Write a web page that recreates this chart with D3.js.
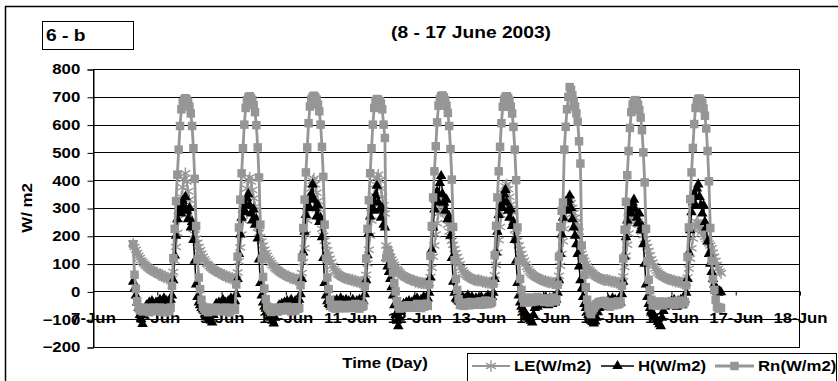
<!DOCTYPE html>
<html>
<head>
<meta charset="utf-8">
<script src="https://cdn.jsdelivr.net/npm/d3@7/dist/d3.min.js"></script>
<style>
  body { margin: 0; background: #fff; }
  svg text { font-family: "Liberation Sans", Arial, sans-serif; font-weight: bold; fill: #000; }
</style>
</head>
<body>
<svg id="chart" width="838" height="381"></svg>
<script>
// half-hourly readings, one array per day (7-Jun starts 15:00, 16-Jun ends 18:30)
const rn07 = [170,60,10,-35,-60,-68,-62,-72,-58,-66,-70,-60,-75,-63,-68,-58,-71,-64];
const rn08 = [-64,-70,-58,-73,-62,-68,-75,-60,-66,-71,-58, 20,120,225,325,420,510,595,655,680,690,695,690,682, 665,640,595,515,405,235,115,50,8,-30,-55, -62,-70,-58,-75,-64,-68,-60,-72,-66,-58,-70,-63,-67];
const rn09 = [-60,-72,-65,-58,-70,-62,-76,-64,-68,-59,-66, 25,125,230,330,425,515,600,660,688,698,702,696, 688,670,645,598,518,410,240,118,52,10,-28,-54, -60,-68,-74,-62,-70,-58,-66,-72,-61,-69,-64,-57,-65];
const rn10 = [-62,-55,-68,-60,-72,-58,-65,-70,-57,-63,-60, 22,122,228,330,428,518,605,665,690,700,704,698, 690,672,648,600,520,412,240,118,50,8,-30,-52, -58,-50,-62,-55,-48,-60,-52,-57,-49,-61,-54,-50,-56];
const rn11 = [-55,-48,-60,-52,-45,-58,-50,-62,-47,-55,-51, 18,118,225,328,425,515,600,660,685,692,690,684, 676,655,600,552,120,150,138,122,98,68,30,0, -35,-55,-62,-56,-60,-52,-58,-54,-50,-57,-53,-59,-55];
const rn12 = [-50,-58,-45,-54,-48,-60,-46,-55,-50,-44,-52, 25,128,235,338,432,522,608,668,692,702,705,698, 688,668,642,595,512,402,232,112,45,5,-28,-48, -50,-44,-52,-40,-47,-42,-50,-38,-45,-41,-48,-39,-44];
const rn13 = [-42,-36,-48,-38,-45,-33,-40,-46,-35,-43,-38, 28,130,236,338,432,520,605,664,690,700,702,696, 686,665,640,592,510,400,230,110,45,5,-25,-40, -35,-28,-40,-22,-32,-38,-25,-36,-30,-20,-34,-28,-31];
const rn14 = [-30,-38,-25,-35,-28,-40,-26,-33,-22,-36,-29, 24,125,232,290,320,510,592,655,700,735,725,705, 685,665,640,610,540,460,165,118,60,15,-30,-60, -75,-82,-68,-60,-52,-46,-42,-38,-45,-36,-41,-34,-39];
const rn15 = [-48,-40,-55,-44,-38,-50,-42,-47,-36,-45,-40, 20,118,222,322,418,505,588,645,672,684,688,682, 672,652,625,580,500,392,225,108,42,4,-30,-50, -48,-40,-52,-44,-36,-47,-41,-50,-38,-45,-42,-37,-44];
const rn16 = [-42,-36,-48,-38,-45,-33,-41,-46,-35,-43,-38, 22,124,230,332,428,516,602,660,684,692,694,688, 678,658,632,586,505,396,228,110,44,5,-30,-55, -62,-58,-60];

const h07 = [35,10,-15,-40,-60,-85,-100,-117,-85,-60,-50,-55,-40,-50,-35,-45,-55,-40];
const h08 = [-40,-55,-30,-50,-45,-25,-55,-35,-50,-40,-30, -15,40,130,200,260,290,310,280,325,300,340,290, 260,300,230,250,185,110,25,-20,-40,-50,-60,-65, -70,-80,-90,-95,-100,-105,-112,-85,-60,-45,-55,-40,-50];
const h09 = [-45,-30,-50,-40,-55,-35,-45,-25,-50,-40,-35, -10,45,135,205,265,295,320,285,335,350,310,280, 255,295,240,260,190,115,30,-15,-40,-55,-62,-70, -78,-88,-95,-105,-115,-95,-75,-60,-50,-55,-45,-50,-40];
const h10 = [-50,-35,-55,-40,-30,-50,-45,-35,-55,-40,-30, -10,45,140,215,275,305,335,300,350,385,330,300, 270,310,250,265,195,120,30,-15,-35,-45,-50,-55, -45,-35,-50,-30,-55,-40,-25,-45,-35,-50,-30,-40,-35];
const h11 = [-40,-50,-30,-45,-55,-35,-40,-30,-50,-45,-35, -10,40,130,210,270,300,330,290,345,380,320,295, 265,300,240,230,120,90,70,45,15,-15,-50,-85, -105,-125,-95,-70,-55,-45,-50,-40,-45,-35,-50,-40,-45];
const h12 = [-30,-45,-25,-40,-50,-30,-40,-20,-35,-45,-25, -5,50,150,230,295,330,360,320,390,415,350,320, 290,330,260,270,200,120,35,-5,-25,-30,-35,-38, -30,-20,-35,-25,-40,-15,-30,-35,-20,-30,-40,-25,-35];
const h13 = [-25,-40,-20,-35,-45,-25,-35,-15,-30,-40,-20, -5,45,140,215,275,305,335,300,350,365,320,290, 265,295,235,250,185,110,30,-15,-40,-55,-65,-72, -80,-88,-95,-100,-105,-112,-85,-60,-50,-55,-42,-48,-40];
const h14 = [-30,-45,-20,-40,-50,-25,-35,-45,-20,-40,-30, -5,40,135,205,265,295,320,290,330,345,300,260, 230,200,170,135,90,40,10,-20,-45,-60,-75,-85, -95,-105,-110,-115,-108,-95,-75,-60,-45,-55,-40,-50,-45];
const h15 = [-45,-30,-50,-35,-25,-45,-30,-50,-35,-25,-40, -10,35,125,195,255,285,310,280,320,330,295,265, 245,280,220,235,170,100,25,-20,-45,-60,-70,-80, -88,-95,-102,-110,-118,-125,-95,-70,-55,-45,-50,-40,-45];
const h16 = [-35,-50,-30,-45,-55,-35,-45,-30,-50,-40,-30, -5,45,140,220,285,320,350,310,370,385,340,310, 280,310,250,230,180,135,100,70,45,25,10,0, -5,0,-3];

const le07 = [172,160,150,138,128,120,112,106,100,95,90,86,82,78,75,72,70,68];
const le08 = [68,60,64,55,58,50,54,46,50,44,48, 45,70,110,160,210,260,300,340,375,405,425,395, 360,330,300,250,225,205,190,175,160,148,136,125, 115,108,100,96,90,86,82,78,75,72,70,67,64];
const le09 = [64,58,60,52,56,49,52,45,48,43,46, 44,68,108,158,205,255,295,335,370,400,410,395, 365,335,305,255,230,210,195,180,165,150,138,128, 118,110,102,95,90,84,80,76,72,68,65,62,60];
const le10 = [58,54,55,48,50,45,47,42,44,40,42, 42,66,105,155,205,255,295,335,370,398,405,385, 355,325,295,250,225,200,182,165,148,132,118,105, 92,82,74,68,62,58,55,52,50,48,46,45,44];
const le11 = [44,40,42,36,39,34,36,32,34,30,33, 36,60,100,150,200,255,300,345,385,410,420,400, 370,340,310,280,165,150,138,125,115,105,96,88, 80,74,68,62,58,55,52,49,47,45,43,41,40];
const le12 = [38,34,36,31,33,29,31,28,30,27,29, 30,52,85,125,165,205,245,280,310,330,320,300, 280,260,240,215,198,182,168,152,138,124,110,98, 86,76,68,62,57,53,50,47,45,43,41,40,38];
const le13 = [42,37,39,34,36,32,34,30,32,29,31, 33,58,95,140,185,232,275,318,352,378,385,368, 340,312,285,245,222,200,182,165,150,135,122,110, 98,88,80,72,66,61,57,54,51,48,46,44,42];
const le14 = [40,36,38,33,35,31,33,29,31,28,30, 32,56,92,135,180,225,265,300,322,330,318,300, 282,265,248,232,215,150,135,122,110,100,90,82, 76,70,65,60,56,53,50,48,46,44,42,41,40];
const le15 = [42,38,40,35,37,33,35,31,33,30,32, 32,54,88,128,168,208,242,270,288,290,278,265, 252,240,228,215,202,188,175,160,145,130,116,104, 92,82,74,67,62,58,55,52,50,47,45,44,43];
const le16 = [42,38,40,35,37,33,35,31,33,30,32, 30,50,82,118,155,190,220,242,250,245,235,225, 215,205,196,188,180,172,165,155,140,125,110,95, 82,72,65];

const dayNums = [7, 8, 9, 10, 11, 12, 13, 14, 15, 16];
const yTicks = [-200, -100, 0, 100, 200, 300, 400, 500, 600, 700, 800];
const seriesNames = ["LE(W/m2)", "H(W/m2)", "Rn(W/m2)"];

function toPoints(days) {
  const pts = [];
  days.forEach((arr, k) => {
    const d = dayNums[k];
    const h0 = d === 7 ? 15 : 0;
    arr.forEach((v, i) => pts.push({ t: new Date(2003, 5, d, 0, (h0 + i * 0.5) * 60), v: v }));
  });
  return pts;
}

const leData = toPoints([le07, le08, le09, le10, le11, le12, le13, le14, le15, le16]);
const hData = toPoints([h07, h08, h09, h10, h11, h12, h13, h14, h15, h16]);
const rnData = toPoints([rn07, rn08, rn09, rn10, rn11, rn12, rn13, rn14, rn15, rn16]);

const GRAY = "#969696";
const SX = 1.2; // text in the picture is stretched sideways

const svg = d3.select("#chart");
const pLeft = 93, pRight = 799, pTop = 69, pBottom = 347;

const x = d3.scaleTime()
  .domain([new Date(2003, 5, 7), new Date(2003, 5, 18)])
  .range([pLeft, 800]);
const y = d3.scaleLinear().domain([-200, 800]).range([pBottom, pTop]);

// outer chart border (runs past the picture bottom/right)
svg.append("rect").attr("x", 5.5).attr("y", 6.5).attr("width", 900).attr("height", 420)
  .attr("fill", "none").attr("stroke", "#000").attr("stroke-width", 1.5);

// label box
svg.append("rect").attr("x", 42.5).attr("y", 21.5).attr("width", 91).attr("height", 28)
  .attr("fill", "#fff").attr("stroke", "#000").attr("stroke-width", 1);
svg.append("text").attr("transform", "translate(46,41) scale(" + SX + ",1)")
  .style("font-size", "16px").text("6 - b");

svg.append("text").attr("transform", "translate(471,38) scale(" + SX + ",1)")
  .attr("text-anchor", "middle").style("font-size", "16px").text("(8 - 17 June 2003)");

// gridlines
svg.append("g").selectAll("line").data(yTicks).enter().append("line")
  .attr("x1", pLeft).attr("x2", pRight)
  .attr("y1", d => Math.round(y(d)) + 0.5).attr("y2", d => Math.round(y(d)) + 0.5)
  .attr("stroke", "#000").attr("stroke-width", 1);

// plot border
svg.append("rect").attr("x", pLeft + 0.5).attr("y", Math.round(pTop) + 0.5)
  .attr("width", pRight - pLeft).attr("height", Math.round(pBottom) - Math.round(pTop))
  .attr("fill", "none").attr("stroke", "#000").attr("stroke-width", 1);

// y axis
const yAxis = svg.append("g").attr("transform", "translate(" + (pLeft + 0.5) + ",0.5)")
  .call(d3.axisLeft(y).tickValues(yTicks).tickSize(6).tickPadding(5));
yAxis.attr("font-family", null);
yAxis.select(".domain").attr("stroke", "#000");
yAxis.selectAll("line").attr("stroke", "#000");
yAxis.selectAll("text").style("font-size", "14px").attr("transform", "scale(" + SX + ",1)");

// x axis sits on the zero line, labels drop below
const xAxis = svg.append("g").attr("transform", "translate(0," + (Math.round(y(0)) + 0.5) + ")")
  .call(d3.axisBottom(x).ticks(d3.timeDay.every(1)).tickFormat(d3.timeFormat("%-d-%b"))
    .tickSize(4).tickPadding(17.5));
xAxis.attr("font-family", null);
xAxis.select(".domain").remove();
xAxis.selectAll("line").attr("stroke", "#000");
xAxis.selectAll("text").style("font-size", "14px").attr("transform", "scale(" + SX + ",1)");

// axis titles
svg.append("text").attr("transform", "translate(32,208) rotate(-90) scale(" + SX + ",1)")
  .attr("text-anchor", "middle").style("font-size", "14px").text("W/ m2");
svg.append("text").attr("transform", "translate(385,368) scale(" + SX + ",1)")
  .attr("text-anchor", "middle").style("font-size", "14px").text("Time (Day)");

// series
const line = d3.line().x(d => x(d.t)).y(d => y(d.v));
const starSym = d3.symbol().type(d3.symbolAsterisk).size(92);
const triSym = d3.symbol().type(d3.symbolTriangle).size(48);
const sqSym = d3.symbol().type(d3.symbolSquare).size(72);

function drawSeries(data, color, width, sym, filled) {
  const g = svg.append("g");
  g.append("path").datum(data).attr("d", line).attr("fill", "none")
    .attr("stroke", color).attr("stroke-width", width);
  g.selectAll("path.m").data(data).enter().append("path").attr("class", "m")
    .attr("transform", d => "translate(" + x(d.t) + "," + y(d.v) + ")")
    .attr("d", sym)
    .attr("fill", filled ? color : "none")
    .attr("stroke", filled ? "none" : color)
    .attr("stroke-width", 1.4);
}
drawSeries(leData, GRAY, 2, starSym, false);
drawSeries(hData, "#000", 1.5, triSym, true);
drawSeries(rnData, GRAY, 2.8, sqSym, true);

// legend
const lg = svg.append("g");
lg.append("rect").attr("x", 467.5).attr("y", 353.5).attr("width", 369).attr("height", 40)
  .attr("fill", "#fff").attr("stroke", "#000").attr("stroke-width", 1);
const legendItems = [
  { name: seriesNames[0], x1: 472, x2: 510, tx: 514, color: GRAY, w: 2, sym: starSym, filled: false },
  { name: seriesNames[1], x1: 601, x2: 634, tx: 638, color: "#000", w: 1.5, sym: triSym, filled: true },
  { name: seriesNames[2], x1: 715, x2: 754, tx: 758, color: GRAY, w: 2.8, sym: sqSym, filled: true }
];
legendItems.forEach(it => {
  lg.append("line").attr("x1", it.x1).attr("x2", it.x2).attr("y1", 366).attr("y2", 366)
    .attr("stroke", it.color).attr("stroke-width", it.w);
  lg.append("path").attr("transform", "translate(" + ((it.x1 + it.x2) / 2) + ",366)")
    .attr("d", it.sym).attr("fill", it.filled ? it.color : "none")
    .attr("stroke", it.filled ? "none" : it.color).attr("stroke-width", 1.4);
  lg.append("text").attr("transform", "translate(" + it.tx + ",371) scale(" + SX + ",1)")
    .style("font-size", "14px").text(it.name);
});
</script>
</body>
</html>
